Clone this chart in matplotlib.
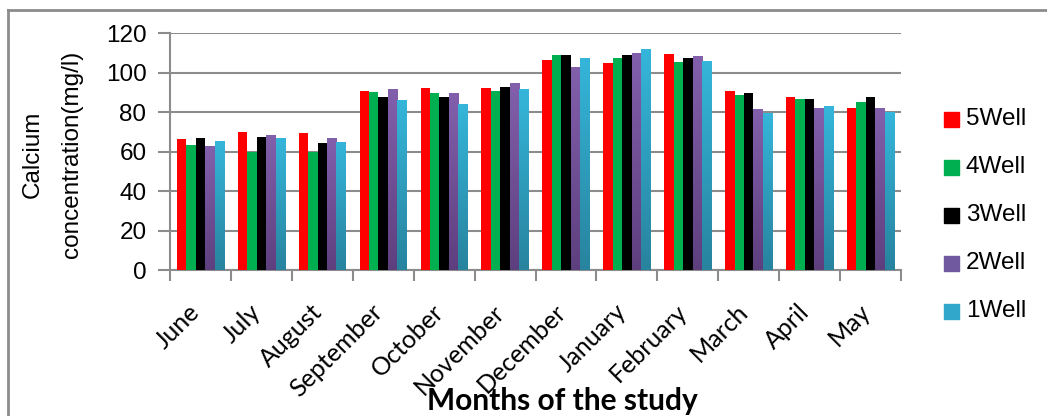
import numpy as np
import matplotlib
matplotlib.use("Agg")
import matplotlib.pyplot as plt
from matplotlib.colors import LinearSegmentedColormap
from matplotlib.lines import Line2D

months = ["June", "July", "August", "September", "October", "November",
          "December", "January", "February", "March", "April", "May"]
well5 = [66.6, 70.0, 69.3, 91.0, 92.5, 92.5, 106.6, 104.9, 109.3, 90.6, 87.6, 82.2]
well4 = [63.5, 59.8, 60.1, 90.5, 89.6, 90.7, 108.9, 107.3, 105.7, 88.8, 86.7, 85.4]
well3 = [67.1, 67.6, 64.6, 88.0, 87.8, 92.7, 108.9, 108.9, 107.3, 90.0, 86.7, 88.0]
well2 = [62.7, 68.3, 66.8, 91.7, 89.6, 94.7, 102.8, 110.0, 108.4, 81.5, 82.0, 82.0]
well1 = [65.7, 66.8, 65.2, 86.1, 84.0, 92.0, 107.4, 112.0, 105.9, 79.5, 83.0, 80.0]
series_names = ["5Well", "4Well", "3Well", "2Well", "1Well"]
yticks = [0, 20, 40, 60, 80, 100, 120]

W, H = 1047, 416
fig = plt.figure(figsize=(W / 100, H / 100), dpi=100)
fig.patch.set_facecolor("white")

def fx(px):
    return px / W

def fy(py):
    return 1 - py / H

ax_l, ax_r, ax_t, ax_b = 170, 901, 33.3, 270.3
ax = fig.add_axes([fx(ax_l), fy(ax_b), fx(ax_r - ax_l), (ax_b - ax_t) / H])

# solid fills and bottom/top gradient fills
styles = [
    ("#FF0000", None),
    ("#00B050", None),
    ("#000000", None),
    (None, ("#5E3F7E", "#8260AC")),
    (None, ("#28839E", "#35B6DA")),
]
series = [well5, well4, well3, well2, well1]

n = len(months)
x = np.arange(n)
bw = 0.155
offsets = (np.arange(5) - 2) * bw

ax.set_xlim(-0.5, n - 0.5)
ax.set_ylim(0, 120)

for (solid, grad), vals, off in zip(styles, series, offsets):
    if solid is not None:
        ax.bar(x + off, vals, width=bw, color=solid, zorder=3, linewidth=0)
    else:
        bars = ax.bar(x + off, vals, width=bw, color="none", zorder=3, linewidth=0)
        cmap = LinearSegmentedColormap.from_list("g", list(grad))
        for b in bars:
            x0, w_, h_ = b.get_x(), b.get_width(), b.get_height()
            img = ax.imshow(np.linspace(0, 1, 256).reshape(-1, 1), cmap=cmap,
                            origin="lower", aspect="auto",
                            extent=[x0, x0 + w_, 0, h_], zorder=3)
            img.set_clip_path(b)

ax.set_xlim(-0.5, n - 0.5)
ax.set_ylim(0, 120)

grid_c = "#8C8C8C"
ax.set_yticks(yticks)
ax.yaxis.grid(True, color=grid_c, linewidth=1.5, zorder=0)
ax.set_axisbelow(True)
for s in ["top", "right"]:
    ax.spines[s].set_visible(False)
for s in ["left", "bottom"]:
    ax.spines[s].set_color(grid_c)
    ax.spines[s].set_linewidth(1.5)
ax.tick_params(axis="y", length=9, width=1.5, color=grid_c, pad=8,
               labelsize=17.5, labelcolor="black")
ax.set_yticklabels([str(v) for v in yticks], family="Liberation Sans")

# category boundary ticks on the bottom axis
ax.set_xticks(np.arange(n + 1) - 0.5)
ax.set_xticklabels([])
ax.tick_params(axis="x", length=8, width=1.5, color=grid_c)

# rotated month labels
for i, m in enumerate(months):
    cx = ax_l + (i + 0.5) * (ax_r - ax_l) / n
    fig.text(fx(cx + 4), fy(300), m, rotation=45, ha="right", va="top",
             fontsize=18, family="Lato")

fig.text(fx(562), fy(401), "Months of the study", ha="center", va="center",
         fontsize=21.5, fontweight="bold", family="Lato")

fig.text(fx(33), fy(154), "Calcium", rotation=90, ha="center", va="center",
         fontsize=17.5, family="Liberation Sans")
fig.text(fx(72), fy(154), "concentration(mg/l)", rotation=90, ha="center",
         va="center", fontsize=17.5, family="Liberation Sans")

# legend
leg_colors = ["#FF0000", "#00B050", "#000000", "#7159A0", "#31A8CB"]
for k, (name, c) in enumerate(zip(series_names, leg_colors)):
    yc = 119 + k * 48
    fig.patches.append(plt.Rectangle((fx(944), fy(yc + 7.5)), fx(15), 15 / H,
                                     transform=fig.transFigure, color=c))
    fig.text(fx(966), fy(yc), name, ha="left", va="center",
             fontsize=17.5, family="Liberation Sans")

# outer frame (top and left edges)
fig.add_artist(Line2D([fx(8), 1], [fy(9.5), fy(9.5)], color="#8C8C8C",
                      linewidth=2, transform=fig.transFigure))
fig.add_artist(Line2D([fx(8), fx(8)], [fy(9.5), 0], color="#8C8C8C",
                      linewidth=2, transform=fig.transFigure))

fig.savefig("out.png", dpi=100)
